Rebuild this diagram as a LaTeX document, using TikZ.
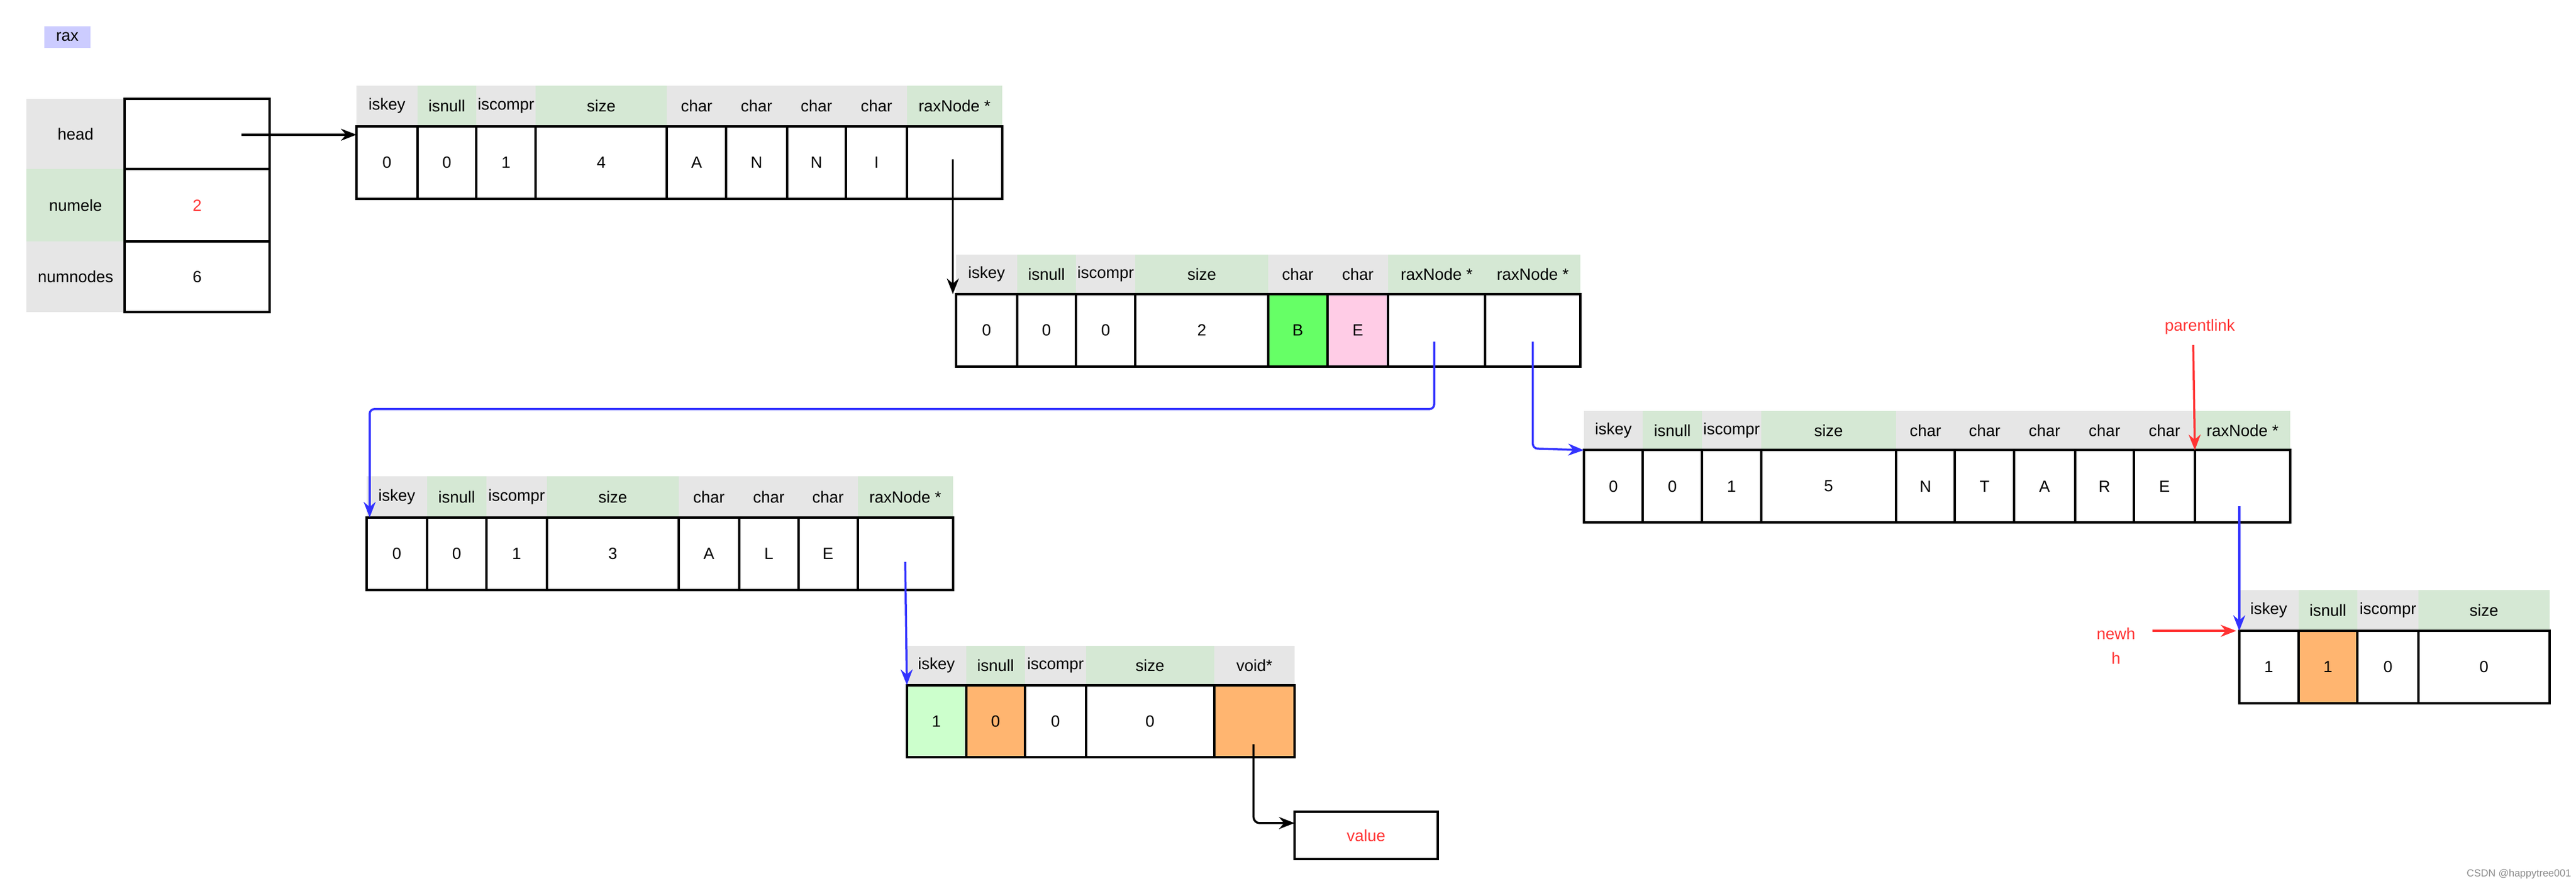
\documentclass[tikz,border=0pt]{standalone}
\usepackage{fontspec}
\setmainfont{Liberation Sans}
\usetikzlibrary{arrows.meta}
\definecolor{hgray}{HTML}{E6E6E6}
\definecolor{hgreen}{HTML}{D5E8D4}
\definecolor{lav}{HTML}{CCCCFF}
\definecolor{orng}{HTML}{FFB570}
\definecolor{bgreen}{HTML}{66FF66}
\definecolor{lgreen}{HTML}{CCFFCC}
\definecolor{pinkc}{HTML}{FFCCE6}
\definecolor{myred}{HTML}{FF3333}
\definecolor{myblue}{HTML}{3333FF}
\newcommand\cellbox[7]{%
 \pgfmathsetmacro\cw{(#3-#2)*2.742}\pgfmathsetmacro\ch{(#5-#4)*2.742}%
 \node[#6, minimum width=\cw pt, minimum height=\ch pt] (#1) at ({(#2+#3)/2},{(#4+#5)/2}) {#7};}
\tikzset{
 every node/.style={font=\fontsize{27}{30}\selectfont, inner sep=0pt, outer sep=0pt},
 hg/.style={fill=hgray}, hgr/.style={fill=hgreen}, lav/.style={fill=lav},
 val/.style={draw, line width=4pt},
 valred/.style={val, text=myred},
 valB/.style={val, fill=bgreen},
 valP/.style={val, fill=pinkc},
 valO/.style={val, fill=orng},
 valL/.style={val, fill=lgreen},
 arr/.style={line width=3.5pt, -{Stealth[length=26pt,width=20pt]}},
}
\begin{document}
\begin{tikzpicture}[x=2.742pt,y=-2.742pt]
\useasboundingbox (0,0) rectangle (1568,539);
% rax label
\cellbox{rax}{27}{55}{16}{29}{lav}{rax}
% head table
\foreach \a/\b/\s/\t [count=\i] in {60/103/hg/head,103/147/hgr/numele,147/190/hg/numnodes}
 {\cellbox{hl\i}{16}{76}{\a}{\b}{\s}{\t}}
\foreach \a/\b/\s/\t [count=\i] in {60/103/val/{},103/147/valred/2,147/190/val/6}
 {\cellbox{hv\i}{76}{164}{\a}{\b}{\s}{\t}}
% node 1
\foreach \a/\b/\s/\t [count=\i] in {217/254/hg/iskey,254/290/hgr/isnull,290/326/hg/iscompr,326/406/hgr/size,406/442/hg/char,442/479/hg/char,479/515/hg/char,515/552/hg/char,552/610/hgr/raxNode *}
 {\cellbox{n1h\i}{\a}{\b}{52}{77}{\s}{\t}}
\foreach \a/\b/\t [count=\i] in {217/254/0,254/290/0,290/326/1,326/406/4,406/442/A,442/479/N,479/515/N,515/552/I,552/610/{}}
 {\cellbox{n1v\i}{\a}{\b}{77}{121}{val}{\t}}
% node 2
\foreach \a/\b/\s/\t [count=\i] in {582/619/hg/iskey,619/655/hgr/isnull,655/691/hg/iscompr,691/772/hgr/size,772/808/hg/char,808/845/hg/char,845/904/hgr/raxNode *,904/962/hgr/raxNode *}
 {\cellbox{n2h\i}{\a}{\b}{155}{179}{\s}{\t}}
\foreach \a/\b/\s/\t [count=\i] in {582/619/val/0,619/655/val/0,655/691/val/0,691/772/val/2,772/808/valB/B,808/845/valP/E,845/904/val/{},904/962/val/{}}
 {\cellbox{n2v\i}{\a}{\b}{179}{223}{\s}{\t}}
% node 3
\foreach \a/\b/\s/\t [count=\i] in {964/1000/hg/iskey,1000/1036/hgr/isnull,1036/1072/hg/iscompr,1072/1154/hgr/size,1154/1190/hg/char,1190/1226/hg/char,1226/1263/hg/char,1263/1299/hg/char,1299/1336/hg/char,1336/1394/hgr/raxNode *}
 {\cellbox{n3h\i}{\a}{\b}{250}{274}{\s}{\t}}
\foreach \a/\b/\t [count=\i] in {964/1000/0,1000/1036/0,1036/1072/1,1072/1154/5,1154/1190/N,1190/1226/T,1226/1263/A,1263/1299/R,1299/1336/E,1336/1394/{}}
 {\cellbox{n3v\i}{\a}{\b}{274}{318}{val}{\t}}
% node 4
\foreach \a/\b/\s/\t [count=\i] in {1363/1399/hg/iskey,1399/1435/hgr/isnull,1435/1472/hg/iscompr,1472/1552/hgr/size}
 {\cellbox{n4h\i}{\a}{\b}{359}{384}{\s}{\t}}
\foreach \a/\b/\s/\t [count=\i] in {1363/1399/val/1,1399/1435/valO/1,1435/1472/val/0,1472/1552/val/0}
 {\cellbox{n4v\i}{\a}{\b}{384}{428}{\s}{\t}}
% node 5
\foreach \a/\b/\s/\t [count=\i] in {223/260/hg/iskey,260/296/hgr/isnull,296/333/hg/iscompr,333/413/hgr/size,413/450/hg/char,450/486/hg/char,486/522/hg/char,522/580/hgr/raxNode *}
 {\cellbox{n5h\i}{\a}{\b}{290}{315}{\s}{\t}}
\foreach \a/\b/\t [count=\i] in {223/260/0,260/296/0,296/333/1,333/413/3,413/450/A,450/486/L,486/522/E,522/580/{}}
 {\cellbox{n5v\i}{\a}{\b}{315}{359}{val}{\t}}
% node 6
\foreach \a/\b/\s/\t [count=\i] in {552/588/hg/iskey,588/624/hgr/isnull,624/661/hg/iscompr,661/739/hgr/size,739/788/hg/void*}
 {\cellbox{n6h\i}{\a}{\b}{393}{417}{\s}{\t}}
\foreach \a/\b/\s/\t [count=\i] in {552/588/valL/1,588/624/valO/0,624/661/val/0,661/739/val/0,739/788/valO/{}}
 {\cellbox{n6v\i}{\a}{\b}{417}{461}{\s}{\t}}
% value box
\cellbox{valbox}{788}{875}{494}{523}{valred}{value}
% labels
\node[text=myred] (plink) at (1339,199) {parentlink};
\node[text=myred, align=center, font=\fontsize{27}{41}\selectfont] (newh) at (1288,393) {newh\\h};
\node[text=black!45, font=\fontsize{17}{20}\selectfont, anchor=east] (wm) at (1565,532) {CSDN @happytree001};
% connectors
\coordinate (c0) at (147,82);
\draw[arr] (c0) -- (n1h1.south west |- c0);
\coordinate (c1) at (580,97);
\draw[arr] (c1) -- (n2h1.south west -| c1);
\coordinate (c2) at (873,208);
\coordinate (c2b) at (225,249);
\draw[arr, myblue, rounded corners=8pt] (c2) -- (873,249) -- (c2b) -- (n5h1.south west -| c2b);
\coordinate (c3) at (933,208);
\draw[arr, myblue, rounded corners=8pt] (c3) -- (933,273) -- (n3h1.south west);
\coordinate (c4) at (1363,308);
\draw[arr, myblue] (c4) -- (n4h1.south west);
\coordinate (c5) at (1335,210);
\draw[arr, myred] (c5) -- (n3h10.south west);
\coordinate (c6) at (1310,384);
\draw[arr, myred] (c6) -- ([xshift=-5pt]n4h1.south west);
\coordinate (c7) at (551,342);
\draw[arr, myblue] (c7) -- (n6h1.south west);
\coordinate (c8) at (763,453);
\coordinate (c8b) at (763,501);
\draw[arr, rounded corners=10pt] (c8) -- (c8b) -- (valbox.west |- c8b);
\end{tikzpicture}
\end{document}
